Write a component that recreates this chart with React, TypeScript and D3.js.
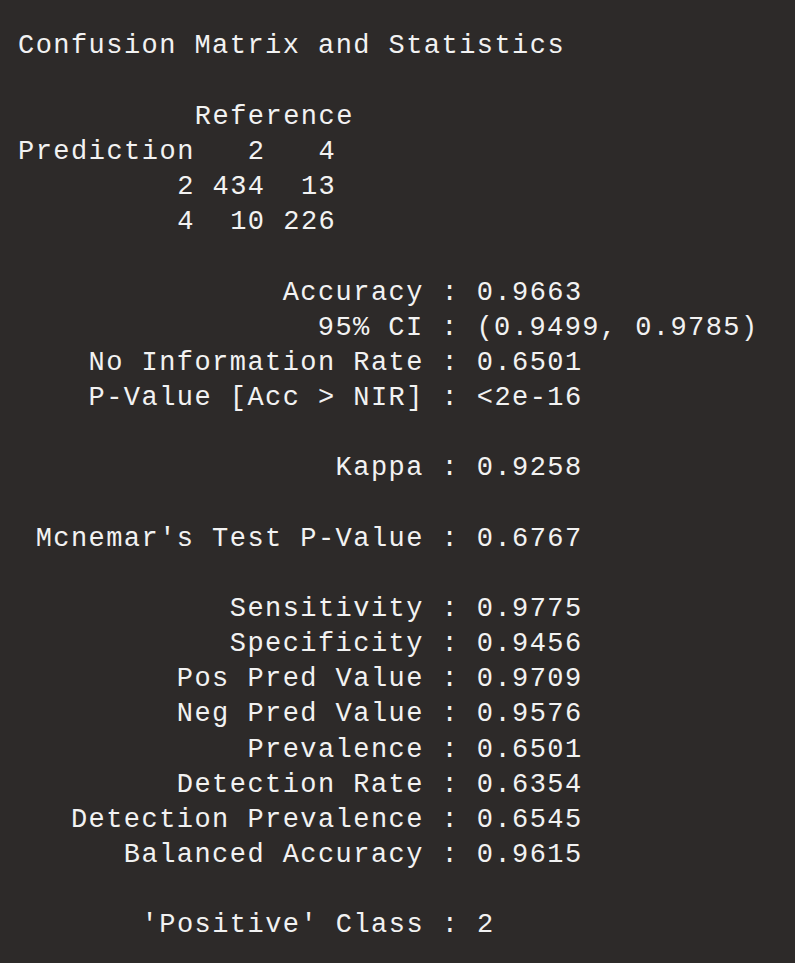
import React from "react";
import * as d3 from "d3";

const title = "Confusion Matrix and Statistics";
const classes = ["2", "4"];
const matrix = [[434, 13], [10, 226]];
const statNames = ["Accuracy", "95% CI", "No Information Rate", "P-Value [Acc > NIR]", "", "Kappa", "", "Mcnemar's Test P-Value", "", "Sensitivity", "Specificity", "Pos Pred Value", "Neg Pred Value", "Prevalence", "Detection Rate", "Detection Prevalence", "Balanced Accuracy", "", "'Positive' Class"];
const statValues = ["0.9663", "(0.9499, 0.9785)", "0.6501", "<2e-16", "", "0.9258", "", "0.6767", "", "0.9775", "0.9456", "0.9709", "0.9576", "0.6501", "0.6354", "0.6545", "0.9615", "", "2"];

const pad = (s: string, n: number) => " ".repeat(Math.max(0, n - s.length)) + s;

export default function App() {
  const lines: string[] = [title, "", pad("Reference", 19)];
  lines.push("Prediction" + classes.map((c) => pad(c, 4)).join(""));
  matrix.forEach((row, i) => lines.push(pad(classes[i], 10) + row.map((v) => pad(String(v), 4)).join("")));
  lines.push("");
  statNames.forEach((n, i) => lines.push(n ? pad(n, 23) + " : " + statValues[i] : ""));

  const y = d3.scaleLinear().domain([0, 25]).range([44, 923]);
  const cw = 17.6;
  return (
    <svg width={795} height={963} style={{ position: "absolute", left: 0, top: 0 }}>
      <rect width={795} height={963} fill="#2d2a29" />
      {lines.map((l, i) =>
        l.trim() ? (
          <text key={i} x={18} y={y(i)} dy="0.35em" fill="#f2f2f2" fontFamily="'Liberation Mono', 'DejaVu Sans Mono', monospace"
            fontSize={27} textLength={l.length * cw} lengthAdjust="spacing" style={{ whiteSpace: "pre" }} xmlSpace="preserve">
            {l}
          </text>
        ) : null
      )}
    </svg>
  );
}
